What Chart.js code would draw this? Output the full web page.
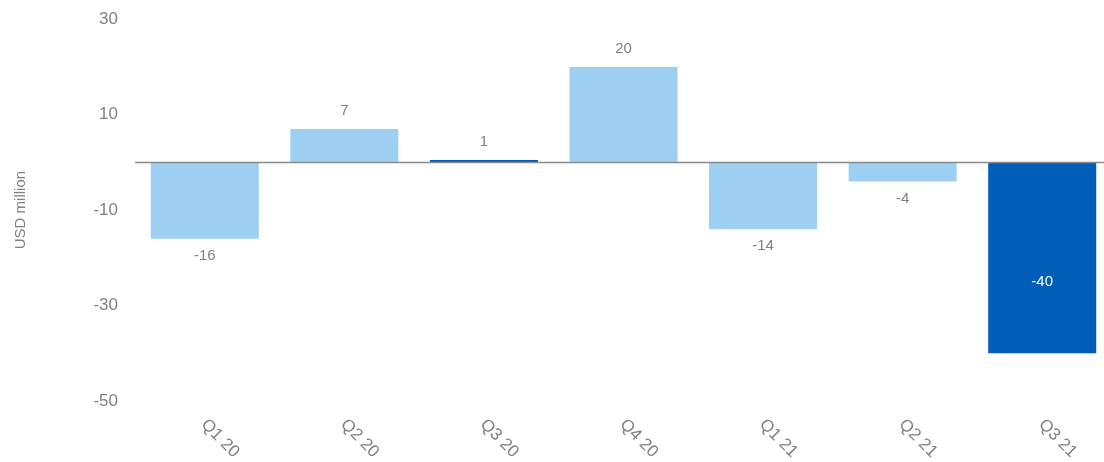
<!DOCTYPE html>
<html>
<head>
<meta charset="utf-8">
<script src="https://cdn.jsdelivr.net/npm/chart.js@4.4.1/dist/chart.umd.min.js"></script>
<style>
  html, body { margin: 0; padding: 0; background: #fff; overflow: hidden; }
  #wrap { position: relative; width: 1112px; height: 462px; }
</style>
</head>
<body>
<div id="wrap"><canvas id="chart"></canvas></div>
<script>
const quarters = ['Q1 20', 'Q2 20', 'Q3 20', 'Q4 20', 'Q1 21', 'Q2 21', 'Q3 21'];
const values = [-16, 7, 0.5, 20, -14, -4, -40];
const highlight = [false, false, true, false, false, false, true];
const yTicks = [-50, -30, -10, 10, 30];

const COLORS = {
  light: '#9dcff3',
  dark: '#005eb8',
  text: '#808080',
  zero: '#8a8a8a'
};
const FONT = "'Liberation Sans', Arial, sans-serif";

const overlay = {
  id: 'overlay',
  afterDatasetsDraw(chart) {
    const { ctx, chartArea, scales: { x, y } } = chart;
    const meta = chart.getDatasetMeta(0);
    ctx.save();

    // zero line
    const y0 = y.getPixelForValue(0);
    ctx.strokeStyle = COLORS.zero;
    ctx.lineWidth = 1.5;
    ctx.beginPath();
    ctx.moveTo(chartArea.left, y0);
    ctx.lineTo(chartArea.right, y0);
    ctx.stroke();

    // value labels
    ctx.font = '15px ' + FONT;
    ctx.textAlign = 'center';
    ctx.textBaseline = 'middle';
    meta.data.forEach((bar, i) => {
      const v = values[i];
      const txt = String(Math.round(v) || 1);
      if (v <= -30) {
        ctx.fillStyle = '#fff';
        ctx.fillText(txt, bar.x, y0 + (bar.y - y0) * 0.625);
      } else if (v >= 0) {
        ctx.fillStyle = COLORS.text;
        ctx.fillText(txt, bar.x, bar.y - 18);
      } else {
        ctx.fillStyle = COLORS.text;
        ctx.fillText(txt, bar.x, bar.y + 17);
      }
    });

    // rotated category labels
    ctx.font = '17px ' + FONT;
    ctx.fillStyle = COLORS.text;
    ctx.textAlign = 'left';
    ctx.textBaseline = 'middle';
    quarters.forEach((q, i) => {
      const px = x.getPixelForTick(i);
      ctx.save();
      ctx.translate(px - 1, chartArea.bottom + 21);
      ctx.rotate(Math.PI / 4);
      ctx.fillText(q, 0, 0);
      ctx.restore();
    });

    ctx.restore();
  }
};

new Chart(document.getElementById('chart'), {
  type: 'bar',
  data: {
    labels: quarters,
    datasets: [{
      data: values,
      backgroundColor: highlight.map(h => h ? COLORS.dark : COLORS.light),
      borderWidth: 0,
      categoryPercentage: 1,
      barPercentage: 0.774
    }]
  },
  options: {
    responsive: true,
    maintainAspectRatio: false,
    animation: false,
    layout: { padding: { top: -12.5, bottom: 53, left: 0, right: 0 } },
    plugins: { legend: { display: false }, tooltip: { enabled: false } },
    scales: {
      x: {
        grid: { display: false },
        border: { display: false },
        ticks: { display: false }
      },
      y: {
        min: -50,
        max: 30,
        afterBuildTicks: axis => { axis.ticks = yTicks.map(v => ({ value: v })); },
        afterFit: axis => { axis.width = 135; },
        grid: { display: false },
        border: { display: false },
        ticks: { color: COLORS.text, font: { family: FONT, size: 17 }, padding: 9 },
        title: {
          display: true,
          text: 'USD million',
          color: COLORS.text,
          font: { family: FONT, size: 15 },
          padding: { top: 12, bottom: 0 }
        }
      }
    }
  },
  plugins: [overlay]
});
</script>
</body>
</html>
